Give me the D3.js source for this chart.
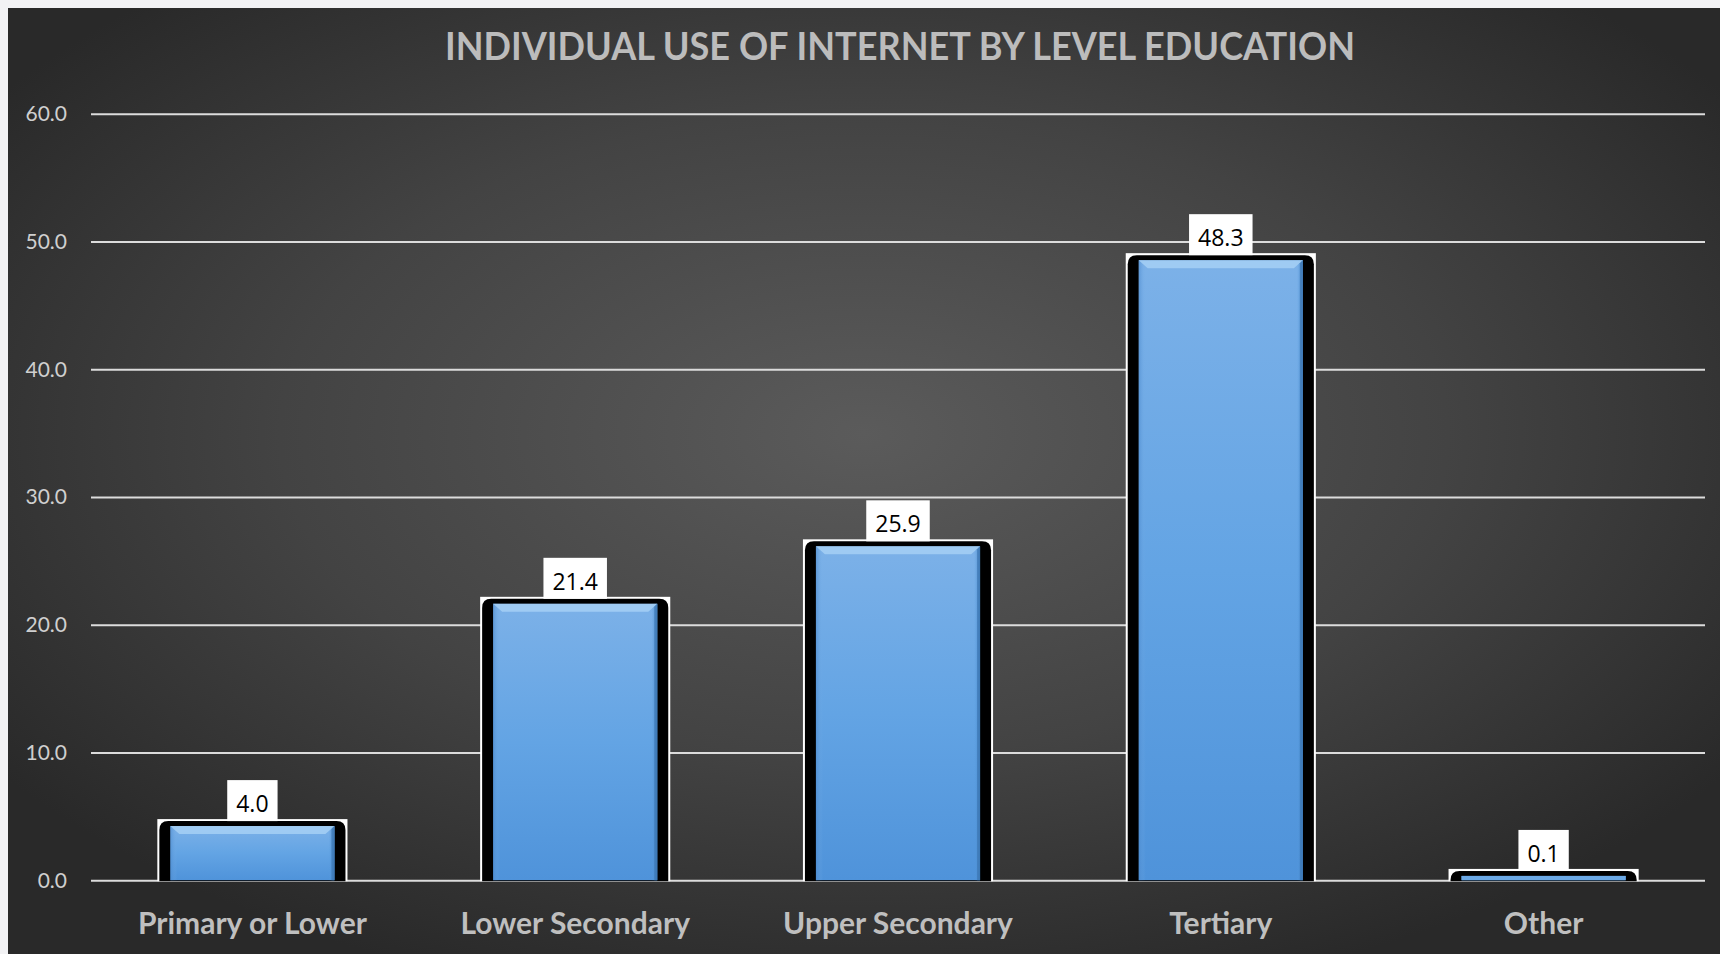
<!DOCTYPE html>
<html>
<head>
<meta charset="utf-8">
<script src="https://cdn.jsdelivr.net/npm/d3@7"></script>
<style>
  html, body { margin: 0; padding: 0; background: #f2f2f4; }
  svg { display: block; }
</style>
</head>
<body>
<svg id="chart" width="1720" height="954"></svg>
<script>
const title = "INDIVIDUAL USE OF INTERNET BY LEVEL EDUCATION";
const categories = ["Primary or Lower", "Lower Secondary", "Upper Secondary", "Tertiary", "Other"];
const values = [4.0, 21.4, 25.9, 48.3, 0.1];
const yTicks = [0, 10, 20, 30, 40, 50, 60];

const W = 1720, H = 954;
const plot = { left: 91, right: 1705, top: 113.7, bottom: 880.2 };

const svg = d3.select("#chart");
const defs = svg.append("defs");

// background gradient
const bg = defs.append("radialGradient").attr("id", "bgGrad")
  .attr("cx", "50%").attr("cy", "45%").attr("r", "62%");
bg.append("stop").attr("offset", "0%").attr("stop-color", "#5b5b5b");
bg.append("stop").attr("offset", "55%").attr("stop-color", "#434343");
bg.append("stop").attr("offset", "100%").attr("stop-color", "#292929");

const blue = defs.append("linearGradient").attr("id", "blueGrad")
  .attr("x1", 0).attr("y1", 0).attr("x2", 0).attr("y2", 1);
blue.append("stop").attr("offset", "0%").attr("stop-color", "#7cb1e8");
blue.append("stop").attr("offset", "50%").attr("stop-color", "#63a4e4");
blue.append("stop").attr("offset", "100%").attr("stop-color", "#4f93da");

const sideL = defs.append("linearGradient").attr("id", "sideL")
  .attr("x1", 0).attr("y1", 0).attr("x2", 1).attr("y2", 0);
sideL.append("stop").attr("offset", "0%").attr("stop-color", "#4a88cc");
sideL.append("stop").attr("offset", "100%").attr("stop-color", "#7ab2ea").attr("stop-opacity", 0);

const sideR = defs.append("linearGradient").attr("id", "sideR")
  .attr("x1", 0).attr("y1", 0).attr("x2", 1).attr("y2", 0);
sideR.append("stop").attr("offset", "0%").attr("stop-color", "#5a9ee0").attr("stop-opacity", 0);
sideR.append("stop").attr("offset", "100%").attr("stop-color", "#3a78b8");

svg.append("rect").attr("x", 8).attr("y", 8).attr("width", W - 8).attr("height", H - 8)
  .attr("fill", "url(#bgGrad)");

// scales
const y = d3.scaleLinear().domain([0, 60]).range([plot.bottom, plot.top]);
const x = d3.scaleBand().domain(categories).range([plot.left, plot.right])
  .paddingInner(0.411).paddingOuter(0.2055);

// title
svg.append("text")
  .attr("x", 900).attr("y", 60)
  .attr("text-anchor", "middle")
  .attr("font-family", "Lato, 'Open Sans', sans-serif")
  .attr("font-weight", "bold")
  .attr("font-size", 38)
  .attr("fill", "#bcbcbc")
  .attr("textLength", 910)
  .attr("lengthAdjust", "spacingAndGlyphs")
  .text(title);

// y axis with gridlines
const yAxis = d3.axisLeft(y).tickValues(yTicks).tickFormat(d3.format(".1f"))
  .tickSizeInner(-(plot.right - plot.left)).tickSizeOuter(0).tickPadding(24);
const gy = svg.append("g").attr("transform", `translate(${plot.left},0)`).call(yAxis);
gy.select(".domain").remove();
gy.selectAll(".tick line").attr("stroke", "#dcdcdc").attr("stroke-width", 2);
gy.selectAll(".tick text")
  .attr("font-family", "Lato, sans-serif").attr("font-size", 21)
  .attr("fill", "#cfcfcf").attr("dy", "0.33em");

// bars
const bw = x.bandwidth();
const inset = 13;
const g = svg.append("g");
values.forEach((v, i) => {
  const c = categories[i];
  const x0 = x(c);
  const vy = y(v);
  const base = y(0) + 1;
  // white frame
  g.append("rect").attr("x", x0).attr("y", vy - 10).attr("width", bw).attr("height", base - (vy - 10))
    .attr("fill", "#ffffff");
  // black rounded-top body
  const bx0 = x0 + 2, bx1 = x0 + bw - 2, by = vy - 8;
  const r = Math.min(9, base - by);
  const p = d3.path();
  p.moveTo(bx0, base);
  p.lineTo(bx0, by + r);
  p.quadraticCurveTo(bx0, by, bx0 + r, by);
  p.lineTo(bx1 - r, by);
  p.quadraticCurveTo(bx1, by, bx1, by + r);
  p.lineTo(bx1, base);
  p.closePath();
  g.append("path").attr("d", p.toString()).attr("fill", "#000000");
  // blue bar
  const ix0 = x0 + inset, iw = bw - 2 * inset, iy = vy - 3, ih = base - 1 - iy;
  g.append("rect").attr("x", ix0).attr("y", iy).attr("width", iw).attr("height", ih)
    .attr("fill", "url(#blueGrad)");
  if (ih > 12) {
    g.append("rect").attr("x", ix0).attr("y", iy).attr("width", 7).attr("height", ih)
      .attr("fill", "url(#sideL)").attr("opacity", 0.6);
    g.append("rect").attr("x", ix0 + iw - 6).attr("y", iy).attr("width", 6).attr("height", ih)
      .attr("fill", "url(#sideR)").attr("opacity", 0.8);
    // top bevel highlight
    g.append("path")
      .attr("d", `M${ix0},${iy} L${ix0 + iw},${iy} L${ix0 + iw - 9},${iy + 8} L${ix0 + 9},${iy + 8} Z`)
      .attr("fill", "#a6d0f4").attr("opacity", 0.85);
    g.append("path")
      .attr("d", `M${ix0 + iw},${iy} L${ix0 + iw},${iy + ih} L${ix0 + iw - 3},${iy + ih} L${ix0 + iw - 3},${iy + 3} Z`)
      .attr("fill", "#3c76b2").attr("opacity", 0.7);
  } else {
    g.append("rect").attr("x", ix0).attr("y", iy).attr("width", iw).attr("height", Math.max(ih, 2))
      .attr("fill", "#6aa8e6");
  }
  // value label
  const cx = x0 + bw / 2;
  const boxBottom = vy - 8;
  const lg = g.append("g");
  const rectEl = lg.append("rect").attr("fill", "#ffffff");
  const t = lg.append("text")
    .attr("x", cx).attr("y", boxBottom - 9)
    .attr("text-anchor", "middle")
    .attr("font-family", "'Open Sans', sans-serif").attr("font-size", 23)
    .attr("fill", "#000000")
    .text(d3.format(".1f")(v));
  const tw = t.node().getComputedTextLength();
  const pad = 9;
  rectEl.attr("x", cx - tw / 2 - pad).attr("y", boxBottom - 41)
    .attr("width", tw + 2 * pad).attr("height", 41);
});

// x axis labels
const xAxis = d3.axisBottom(x).tickSize(0).tickPadding(0);
const gx = svg.append("g").attr("transform", `translate(0,${plot.bottom})`).call(xAxis);
gx.select(".domain").remove();
gx.selectAll(".tick text")
  .attr("y", 54).attr("dy", 0)
  .attr("font-family", "Lato, sans-serif").attr("font-weight", "bold")
  .attr("font-size", 30).attr("fill", "#bfbfbf");
</script>
</body>
</html>
